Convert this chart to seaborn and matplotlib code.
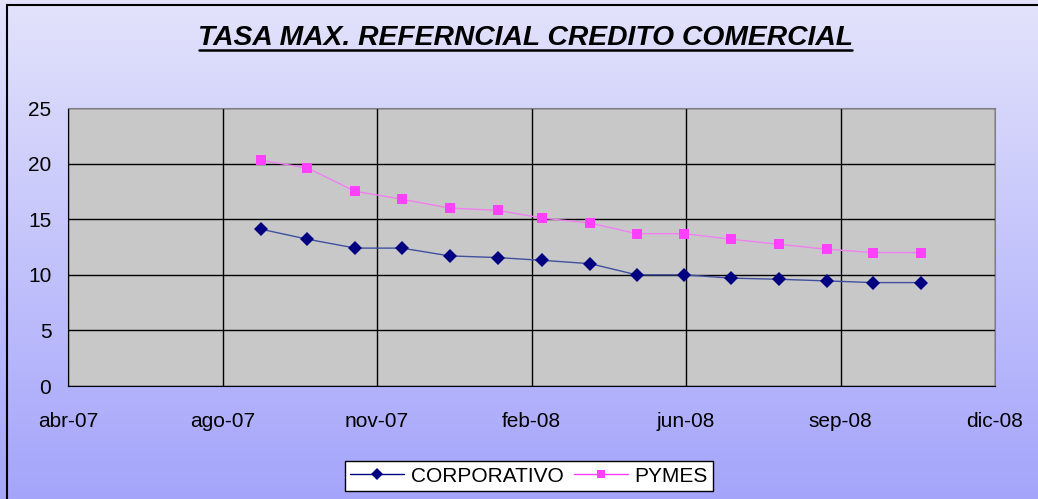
import numpy as np
import pandas as pd
import matplotlib
matplotlib.use("Agg")
import matplotlib.pyplot as plt
from matplotlib.patches import Rectangle
from matplotlib.lines import Line2D
import seaborn as sns

fechas = pd.date_range("2007-09-01", "2008-11-01", freq="MS")
corporativo = [14.1, 13.2, 12.4, 12.4, 11.7, 11.55, 11.3, 11.0, 10.0, 10.0, 9.7, 9.6, 9.45, 9.3, 9.3]
pymes = [20.3, 19.6, 17.5, 16.8, 16.0, 15.8, 15.1, 14.65, 13.7, 13.7, 13.2, 12.75, 12.3, 12.0, 12.0]
tick_fechas = pd.date_range("2007-04-29", periods=7, freq="100D")
tick_labels = ["abr-07", "ago-07", "nov-07", "feb-08", "jun-08", "sep-08", "dic-08"]

df = pd.DataFrame({"fecha": list(fechas) * 2,
                   "tasa": corporativo + pymes,
                   "serie": ["CORPORATIVO"] * len(fechas) + ["PYMES"] * len(fechas)})

sns.set_style("white")
plt.rcParams["font.family"] = ["Liberation Sans", "DejaVu Sans"]
plt.rcParams["text.color"] = "black"
plt.rcParams["xtick.color"] = "black"
plt.rcParams["ytick.color"] = "black"

fig = plt.figure(figsize=(10.38, 4.99), dpi=100)

# fondo degradado
bg = fig.add_axes([0, 0, 1, 1], zorder=-2)
grad = np.linspace(0, 1, 256).reshape(-1, 1)
top = np.array([0.890, 0.890, 0.988])
bot = np.array([0.645, 0.645, 0.988])
img = top + (bot - top) * grad[:, :, None]
bg.imshow(img, aspect="auto", extent=[0, 1, 0, 1])
bg.axis("off")
fig.patches.append(Rectangle((7 / 1038, -0.1), 1.2, 1 - 5 / 499 + 0.1, transform=fig.transFigure,
                             fill=False, edgecolor="black", linewidth=1.5, zorder=5))

ax = fig.add_axes([68 / 1038, 1 - 386 / 499, (995 - 68) / 1038, (386 - 108) / 499])
ax.set_facecolor("#C8C8C8")
sns.lineplot(data=df, x="fecha", y="tasa", hue="serie", style="serie",
             palette={"CORPORATIVO": "#000080", "PYMES": "#FF40FF"},
             markers={"CORPORATIVO": "D", "PYMES": "s"}, dashes=False,
             markersize=7, linewidth=1, ax=ax, legend=False)
for line in ax.lines:
    line.set_markeredgewidth(0)
ax.lines[1].set_color("#F080F0")
ax.lines[1].set_markerfacecolor("#FF40FF")
ax.lines[0].set_color("#4050A0")
ax.lines[0].set_markerfacecolor("#000080")

ax.set_xlim(tick_fechas[0], tick_fechas[-1])
ax.set_ylim(0, 25)
ax.set_yticks(range(0, 26, 5))
ax.set_xticks(tick_fechas)
ax.set_xticklabels(tick_labels)
ax.grid(True, color="black", linewidth=1)
ax.set_axisbelow(True)
ax.set_xlabel("")
ax.set_ylabel("")
for s in ["top", "right"]:
    ax.spines[s].set_color("#808080")
for s in ["left", "bottom"]:
    ax.spines[s].set_color("black")
ax.tick_params(axis="both", labelsize=15, length=5, direction="out", color="black")
ax.tick_params(axis="y", pad=7)
ax.tick_params(axis="x", pad=14)

fig.text(0.506, 1 - 38 / 499, "TASA MAX. REFERNCIAL CREDITO COMERCIAL", ha="center", va="center",
         fontsize=20.3, fontweight="bold", fontstyle="italic")
fig.add_artist(Line2D([199 / 1038, 852 / 1038], [1 - 50 / 499, 1 - 50 / 499], color="black", linewidth=1.8))

handles = [Line2D([], [], color="#000080", marker="D", markersize=6, markeredgewidth=0, linewidth=1),
           Line2D([], [], color="#FF40FF", marker="s", markersize=6, markeredgewidth=0, linewidth=1)]
leg = fig.legend(handles, ["CORPORATIVO", "PYMES"], loc="center", bbox_to_anchor=(529 / 1038, 1 - 476 / 499),
                 ncol=2, fontsize=15, frameon=True, fancybox=False, edgecolor="black", framealpha=1,
                 handlelength=2.6, columnspacing=0.5, handletextpad=0.3, borderpad=0.25, borderaxespad=0)
leg.get_frame().set_linewidth(1)

fig.savefig("out.png", dpi=100)
